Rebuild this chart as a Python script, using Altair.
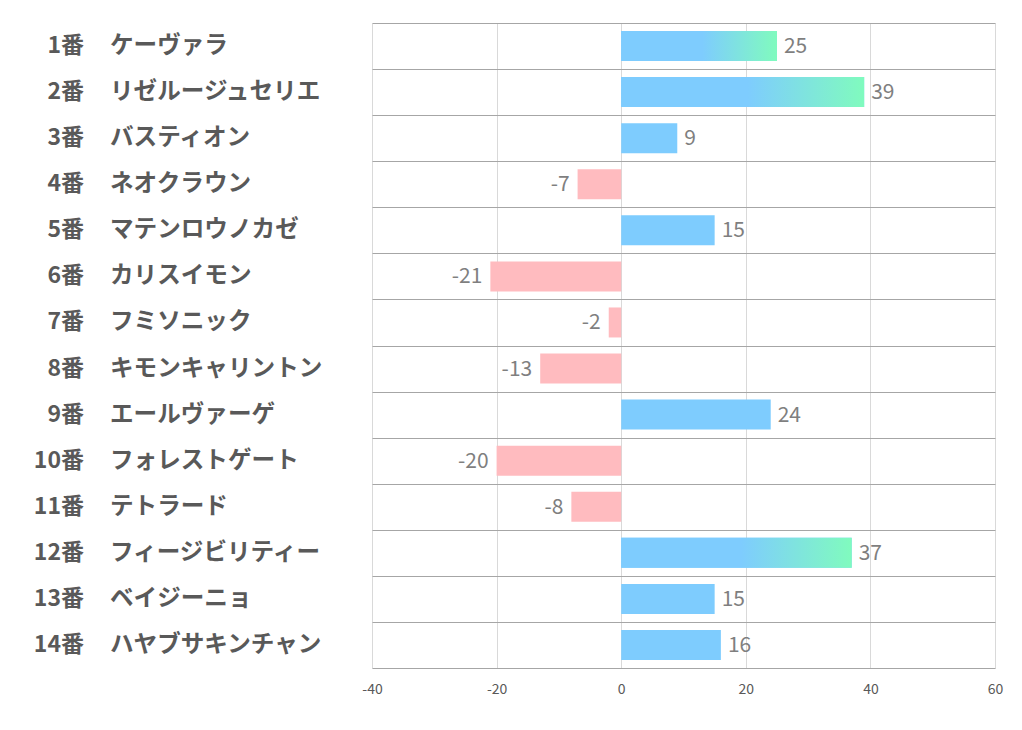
import altair as alt
import pandas as pd

nums = ["1番", "2番", "3番", "4番", "5番", "6番", "7番", "8番", "9番", "10番", "11番", "12番", "13番", "14番"]
names = ["ケーヴァラ", "リゼルージュセリエ", "バスティオン", "ネオクラウン", "マテンロウノカゼ",
         "カリスイモン", "フミソニック", "キモンキャリントン", "エールヴァーゲ", "フォレストゲート",
         "テトラード", "フィージビリティー", "ベイジーニョ", "ハヤブサキンチャン"]
values = [25, 39, 9, -7, 15, -21, -2, -13, 24, -20, -8, 37, 15, 16]
x_ticks = [-40, -20, 0, 20, 40, 60]

top3 = sorted(values, reverse=True)[:3]
df = pd.DataFrame({"num": nums, "name": names, "value": values,
                   "label": [str(v) for v in values],
                   "top": [v in top3 for v in values]})

FONT = "Noto Sans CJK JP"
BLUE = "#7ECCFE"
PINK = "#FFBBBF"
GREEN = "#80FBBE"

y_enc = alt.Y("name:N", sort=names, title=None,
              scale=alt.Scale(paddingInner=0, paddingOuter=0),
              axis=alt.Axis(grid=True, tickBand="extent", labels=False, ticks=False,
                            domain=False, gridColor="#A6A6A6", gridWidth=1))
x_enc = alt.X("value:Q", title=None,
              scale=alt.Scale(domain=[-40, 60], nice=False, zero=True),
              axis=alt.Axis(values=x_ticks, grid=True, gridColor="#D9D9D9", domain=False,
                            ticks=False, labelFontSize=14, labelColor="#595959",
                            labelFont=FONT, labelPadding=14, labelFlush=False,
                            labelExpr="replace(datum.label, '\u2212', '-')"))

base = alt.Chart(df)
y_plain = alt.Y("name:N", sort=names)

bars = base.mark_bar(size=30).encode(
    x=x_enc, y=y_enc,
    color=alt.condition(alt.datum.value >= 0, alt.value(BLUE), alt.value(PINK)),
)

grad = base.transform_filter(alt.datum.top).mark_bar(
    size=30,
    color=alt.Gradient(gradient="linear", x1=0, x2=1, y1=0, y2=0,
                       stops=[alt.GradientStop(color=BLUE, offset=0),
                              alt.GradientStop(color=BLUE, offset=0.52),
                              alt.GradientStop(color=GREEN, offset=1)]),
).encode(x="value:Q", y=y_plain)

pos_lab = base.transform_filter(alt.datum.value >= 0).mark_text(
    align="left", baseline="middle", dx=7, dy=1, fontSize=21, color="#7F7F7F", font=FONT
).encode(x="value:Q", y=y_plain, text="label:N")

neg_lab = base.transform_filter(alt.datum.value < 0).mark_text(
    align="right", baseline="middle", dx=-8, dy=1, fontSize=21, color="#7F7F7F", font=FONT
).encode(x="value:Q", y=y_plain, text="label:N")

num_lab = base.mark_text(
    align="right", baseline="middle", fontSize=23, fontWeight="bold", color="#595959", font=FONT
).encode(x=alt.value(-288), y=y_plain, text="num:N")

name_lab = base.mark_text(
    align="left", baseline="middle", fontSize=23.6, fontWeight="bold", color="#595959", font=FONT
).encode(x=alt.value(-262), y=y_plain, text="name:N")

chart = alt.layer(bars, grad, pos_lab, neg_lab, num_lab, name_lab).properties(
    width=623, height=645,
    autosize=alt.AutoSizeParams(type="none"),
    padding={"left": 364, "top": 15, "right": 19, "bottom": 40},
).configure_view(stroke=None)

chart.save("out.html", embed_options={"renderer": "svg", "actions": False})
